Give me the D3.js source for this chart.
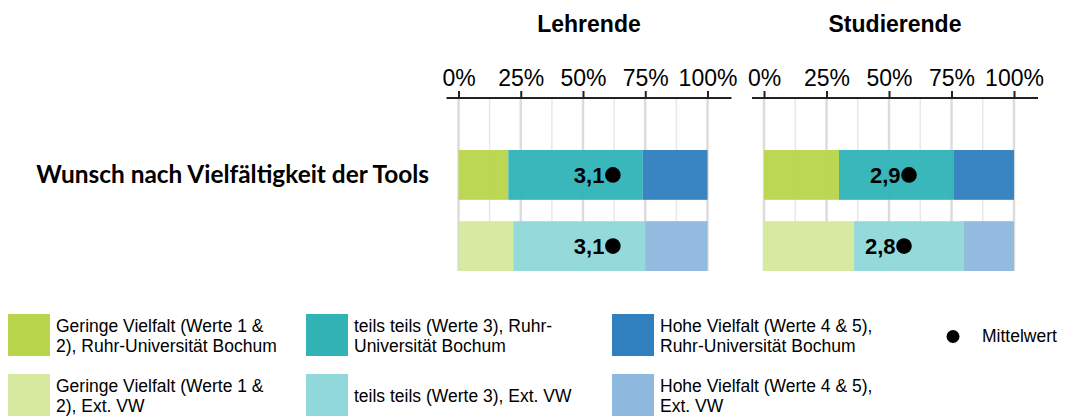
<!DOCTYPE html>
<html>
<head>
<meta charset="utf-8">
<script src="https://cdn.jsdelivr.net/npm/d3@7"></script>
<style>
  body { margin: 0; background: #fff; }
  text { font-family: "Liberation Sans", Arial, sans-serif; fill: #000; }
</style>
</head>
<body>
<div id="chart"></div>
<script>
// data
const panels = ["Lehrende", "Studierende"];
const rows = ["Ruhr-Universität Bochum", "Ext. VW"];
const category = "Wunsch nach Vielfältigkeit der Tools";
const lehrendeRUB = [20, 54, 26];
const lehrendeExt = [22, 53, 25];
const studierendeRUB = [30, 46, 24];
const studierendeExt = [36, 44, 20];
const lehrendeMean = [3.1, 3.1];
const studierendeMean = [2.9, 2.8];
const tickValues = [0, 25, 50, 75, 100];
const minorTicks = [12.5, 37.5, 62.5, 87.5];

const colorsRUB = ["#b9d54c", "#32b4b7", "#3080c0"];
const colorsExt = ["#d6e99e", "#90d8d9", "#8fb8de"];

const legendItems = [
  { color: colorsRUB[0], lines: ["Geringe Vielfalt (Werte 1 &", "2), Ruhr-Universität Bochum"] },
  { color: colorsRUB[1], lines: ["teils teils (Werte 3), Ruhr-", "Universität Bochum"] },
  { color: colorsRUB[2], lines: ["Hohe Vielfalt (Werte 4 & 5),", "Ruhr-Universität Bochum"] },
  { color: colorsExt[0], lines: ["Geringe Vielfalt (Werte 1 &", "2), Ext. VW"] },
  { color: colorsExt[1], lines: ["teils teils (Werte 3), Ext. VW"] },
  { color: colorsExt[2], lines: ["Hohe Vielfalt (Werte 4 & 5),", "Ext. VW"] }
];

const panelData = [
  { name: panels[0], series: [lehrendeRUB, lehrendeExt], means: lehrendeMean, range: [458.5, 707.5] },
  { name: panels[1], series: [studierendeRUB, studierendeExt], means: studierendeMean, range: [764, 1014] }
];

const width = 1068, height = 418;
const svg = d3.select("#chart").append("svg")
  .attr("width", width)
  .attr("height", height);

const y = d3.scaleBand()
  .domain(rows)
  .range([150, 271])
  .paddingInner(0.3)
  .paddingOuter(0);

const axisY = 98;

// category label
svg.append("text")
  .attr("x", 429)
  .attr("y", y(rows[0]) + y.bandwidth() / 2 + 8.5)
  .attr("text-anchor", "end")
  .style("font-family", "Lato, 'Open Sans', sans-serif")
  .style("font-weight", "bold")
  .style("font-size", "24.4px")
  .text(category);

panelData.forEach(p => {
  const x = d3.scaleLinear().domain([0, 100]).range(p.range);
  const g = svg.append("g");

  // title
  g.append("text")
    .attr("x", (p.range[0] + p.range[1]) / 2 + 6)
    .attr("y", 32)
    .attr("text-anchor", "middle")
    .style("font-weight", "bold")
    .style("font-size", "23px")
    .text(p.name);

  // grid
  g.selectAll(".minor")
    .data(minorTicks)
    .enter().append("line")
    .attr("x1", d => x(d)).attr("x2", d => x(d))
    .attr("y1", axisY).attr("y2", 271)
    .attr("stroke", "#e8e8e8")
    .attr("stroke-width", 1.5);

  g.selectAll(".major")
    .data(tickValues)
    .enter().append("line")
    .attr("x1", d => x(d)).attr("x2", d => x(d))
    .attr("y1", axisY).attr("y2", 271)
    .attr("stroke", "#dcdcdc")
    .attr("stroke-width", 2.5);

  // stacked bars
  p.series.forEach((vals, i) => {
    const colors = i === 0 ? colorsRUB : colorsExt;
    let start = 0;
    const segs = vals.map((v, j) => {
      const s = { x0: start, x1: start + v, color: colors[j] };
      start += v;
      return s;
    });
    g.selectAll(null)
      .data(segs)
      .enter().append("rect")
      .attr("x", d => x(d.x0))
      .attr("y", y(rows[i]))
      .attr("width", d => x(d.x1) - x(d.x0))
      .attr("height", y.bandwidth())
      .attr("fill", d => d.color)
      .attr("fill-opacity", 0.96);

    // mean dot on a 0-5 scale
    const m = p.means[i];
    const cx = x(m / 5 * 100);
    const cy = y(rows[i]) + y.bandwidth() / 2;
    g.append("circle")
      .attr("cx", cx)
      .attr("cy", cy)
      .attr("r", 7.8)
      .attr("fill", "#000");
    g.append("text")
      .attr("x", cx - 8.5)
      .attr("y", cy + 8)
      .attr("text-anchor", "end")
      .style("font-size", "22px")
      .style("font-weight", "bold")
      .text(d3.format(".1f")(m).replace(".", ","));
  });

  // axis
  const axis = g.append("g")
    .attr("transform", "translate(0," + axisY + ")")
    .call(d3.axisTop(x)
      .tickValues(tickValues)
      .tickSize(7)
      .tickPadding(5)
      .tickFormat(d => d + "%"));
  axis.select(".domain").remove();
  axis.selectAll(".tick line").attr("stroke", "#222").attr("stroke-width", 2);
  axis.selectAll(".tick text")
    .style("font-family", "'Liberation Sans', Arial, sans-serif")
    .style("font-size", "23px")
    .attr("fill", "#000");
  g.append("line")
    .attr("x1", x(0) - 12).attr("x2", x(100) + 24)
    .attr("y1", axisY).attr("y2", axisY)
    .attr("stroke", "#222")
    .attr("stroke-width", 2.2);
});

// legend
const legendCols = [8, 306, 612];
const legendRows = [314, 374];
const legend = svg.append("g");
legendItems.forEach((item, i) => {
  const lx = legendCols[i % 3];
  const ly = legendRows[Math.floor(i / 3)];
  legend.append("rect")
    .attr("x", lx).attr("y", ly)
    .attr("width", 42).attr("height", 42)
    .attr("fill", item.color);
  const t = legend.append("text")
    .attr("x", lx + 48)
    .style("font-size", "17.5px");
  const top = item.lines.length === 1 ? ly + 27.5 : ly + 17.5;
  item.lines.forEach((line, k) => {
    t.append("tspan")
      .attr("x", lx + 48)
      .attr("y", top + k * 20)
      .text(line);
  });
});
legend.append("circle")
  .attr("cx", 953).attr("cy", 336.5).attr("r", 6.5).attr("fill", "#000");
legend.append("text")
  .attr("x", 982).attr("y", 342)
  .style("font-size", "17.5px")
  .text("Mittelwert");
</script>
</body>
</html>
